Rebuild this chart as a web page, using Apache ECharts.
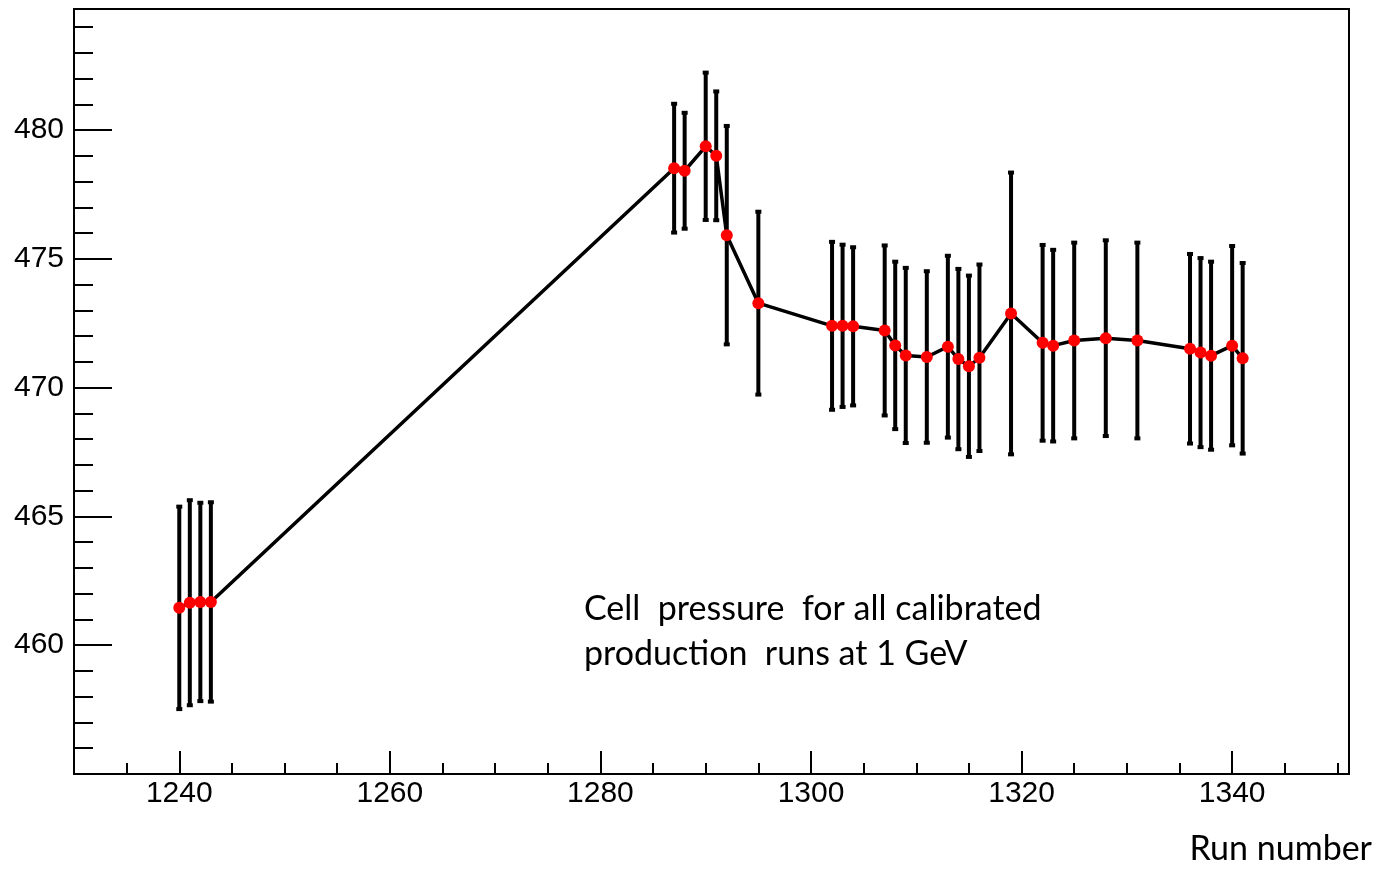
<!DOCTYPE html>
<html>
<head>
<meta charset="utf-8">
<script src="https://cdn.jsdelivr.net/npm/echarts@6/dist/echarts.min.js"></script>
<style>
html,body{margin:0;padding:0;background:#fff;}
#chart{width:1377px;height:878px;}
</style>
</head>
<body>
<div id="chart"></div>
<script>
const runs = [1240,1241,1242,1243,1287,1288,1290,1291,1292,1295,1302,1303,1304,1307,1308,1309,1311,1313,1314,1315,1316,1319,1322,1323,1325,1328,1331,1336,1337,1338,1340,1341];
const pressure = [461.45,461.65,461.68,461.68,478.52,478.42,479.37,479.0,475.92,473.28,472.40,472.40,472.38,472.22,471.64,471.25,471.19,471.59,471.11,470.83,471.16,472.88,471.74,471.63,471.83,471.92,471.83,471.51,471.36,471.24,471.63,471.14];
const errors = [3.93,3.98,3.85,3.87,2.5,2.25,2.86,2.5,4.24,3.55,3.26,3.15,3.07,3.3,3.25,3.4,3.33,3.53,3.5,3.52,3.62,5.47,3.8,3.72,3.8,3.8,3.8,3.68,3.67,3.65,3.87,3.7];
const xMajorTicks = [1240,1260,1280,1300,1320,1340];
const xMinorTicks = [1235,1245,1250,1255,1265,1270,1275,1285,1290,1295,1305,1310,1315,1325,1330,1335,1345,1350];
const yMajorTicks = [460,465,470,475,480];
const annotationLines = ['Cell  pressure  for all calibrated', 'production  runs at 1 GeV'];
const xTitle = 'Run number';

const chart = echarts.init(document.getElementById('chart'), null, {renderer:'canvas'});
const X_MIN = 1230, X_MAX = 1351.1, Y_MIN = 455, Y_MAX = 484.7;
const tickFont = {fontFamily:'Liberation Sans', fontSize:30, color:'#000'};
const lineStyle = {color:'#000', width:2};

const points = runs.map((r,i)=>[r, pressure[i]]);
const errData = runs.map((r,i)=>[r, pressure[i]-errors[i], pressure[i]+errors[i]]);

const option = {
  animation:false,
  backgroundColor:'#fff',
  grid:{left:74, right:28, top:9, bottom:104, show:true, borderColor:'#000', borderWidth:2, backgroundColor:'transparent'},
  xAxis:[
    {type:'value', min:X_MIN, max:X_MAX, position:'bottom',
     axisLine:{show:true, lineStyle:lineStyle, onZero:false},
     axisTick:{show:true, inside:true, length:11, lineStyle:lineStyle, customValues:xMinorTicks},
     axisLabel:{show:false}, splitLine:{show:false}},
    {type:'value', min:X_MIN, max:X_MAX, position:'bottom',
     axisLine:{show:false, onZero:false},
     axisTick:{show:true, inside:true, length:23, lineStyle:lineStyle, customValues:xMajorTicks},
     axisLabel:Object.assign({show:true, margin:5, customValues:xMajorTicks, formatter:function(v){return String(v);}}, tickFont),
     splitLine:{show:false}}
  ],
  yAxis:[
    {type:'value', min:Y_MIN, max:Y_MAX, interval:1, position:'left',
     axisLine:{show:true, lineStyle:lineStyle, onZero:false},
     axisTick:{show:true, inside:true, length:19, lineStyle:lineStyle},
     axisLabel:{show:false}, splitLine:{show:false}},
    {type:'value', min:Y_MIN, max:Y_MAX, position:'left',
     axisLine:{show:false, onZero:false},
     axisTick:{show:true, inside:true, length:38, lineStyle:lineStyle, customValues:yMajorTicks},
     axisLabel:Object.assign({show:true, margin:10, customValues:yMajorTicks, formatter:function(v){return String(v);}}, tickFont),
     splitLine:{show:false}}
  ],
  series:[
    {type:'custom', xAxisIndex:0, yAxisIndex:0, data:errData, z:2,
     renderItem:function(params, api){
       const x = api.value(0);
       const lo = api.coord([x, api.value(1)]);
       const hi = api.coord([x, api.value(2)]);
       return {type:'group', children:[
         {type:'line', shape:{x1:lo[0], y1:lo[1], x2:hi[0], y2:hi[1]}, style:{stroke:'#000', lineWidth:4}},
         {type:'rect', shape:{x:lo[0]-3, y:lo[1]-2, width:6, height:4}, style:{fill:'#000'}},
         {type:'rect', shape:{x:hi[0]-3, y:hi[1]-2, width:6, height:4}, style:{fill:'#000'}}
       ]};
     }},
    {type:'line', xAxisIndex:0, yAxisIndex:0, data:points, z:3,
     lineStyle:{color:'#000', width:3.5},
     symbol:'circle', symbolSize:12,
     itemStyle:{color:'#ff0000', borderWidth:0},
     emphasis:{disabled:true}}
  ],
  graphic:[
    {type:'text', left:584, top:587, style:{text:annotationLines.join('\n'), font:'34px Lato', fill:'#000', lineHeight:45}},
    {type:'text', right:5, top:832, style:{text:xTitle, font:'34px Lato', fill:'#000'}}
  ]
};
chart.setOption(option);
</script>
</body>
</html>
